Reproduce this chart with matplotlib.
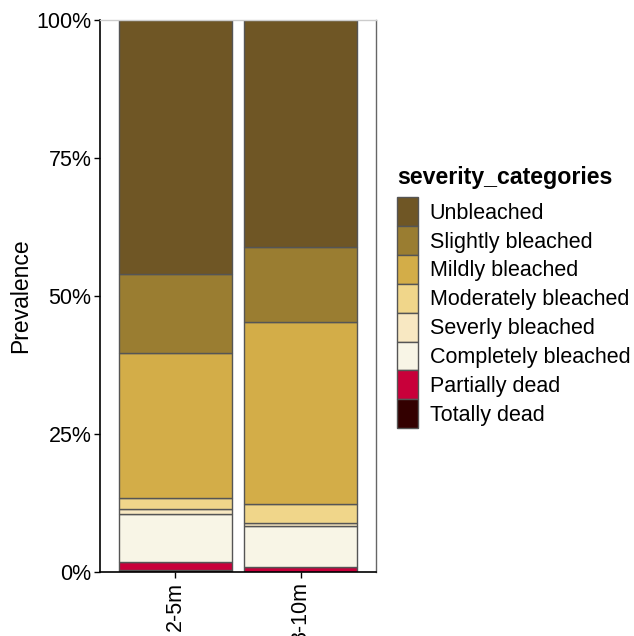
import matplotlib.pyplot as plt
from matplotlib.patches import Patch
from matplotlib.ticker import FuncFormatter

plt.rcParams['font.family'] = ['Liberation Sans', 'DejaVu Sans']

depths = ["2-5m", "8-10m"]
severity_categories = ["Unbleached", "Slightly bleached", "Mildly bleached",
                       "Moderately bleached", "Severly bleached",
                       "Completely bleached", "Partially dead", "Totally dead"]
colours = ["#6F5625", "#9A7D31", "#D3AD48", "#F0D68A",
           "#F8E8C2", "#F8F5E6", "#C8003A", "#330000"]

# prevalence (%) per category, same order as severity_categories
prev_2_5 = [46.0, 14.3, 26.35, 1.85, 0.9, 8.85, 1.4, 0.35]
prev_8_10 = [41.1, 13.6, 33.0, 3.5, 0.4, 7.55, 0.85, 0.0]

fig = plt.figure(figsize=(6.34, 6.36), dpi=100)
ax = fig.add_axes([0.1577, 0.1006, 0.4353, 0.868])

# stack from the bottom: last category sits at 0
for j, vals in enumerate([prev_2_5, prev_8_10]):
    bottom = 0.0
    for k in reversed(range(len(severity_categories))):
        v = vals[k] / 100.0
        if v > 0:
            ax.bar(j + 1, v, width=0.9, bottom=bottom, color=colours[k],
                   edgecolor="#555555", linewidth=1.0)
        bottom += v

ax.set_xlim(0.4, 2.6)
ax.set_ylim(0, 1)
ax.set_xticks([1, 2])
ax.set_xticklabels(depths, rotation=90, fontsize=15.5, color="black")
ax.set_yticks([0, 0.25, 0.5, 0.75, 1.0])
ax.yaxis.set_major_formatter(FuncFormatter(lambda y, _: f"{int(round(y * 100))}%"))
ax.tick_params(axis="y", labelsize=15.5, length=4, width=1, pad=2)
ax.tick_params(axis="x", length=4, width=1, pad=3)
ax.set_ylabel("Prevalence", fontsize=16.5)
ax.yaxis.set_label_coords(-0.246, 0.5)

for s in ["left", "bottom"]:
    ax.spines[s].set_linewidth(1.2)
    ax.spines[s].set_color("black")
ax.spines["top"].set_color("#cccccc")
ax.spines["top"].set_linewidth(1.0)
ax.spines["right"].set_color("#666666")
ax.spines["right"].set_linewidth(1.0)

handles = [Patch(facecolor=c, edgecolor="#555555", linewidth=1.0) for c in colours]
leg = fig.legend(handles, severity_categories, loc="upper left",
                 bbox_to_anchor=(0.626, 0.739), frameon=False,
                 fontsize=15.5, title="severity_categories",
                 title_fontproperties={"weight": "bold", "size": 16.7},
                 handlelength=0.98, handleheight=1.685, labelspacing=0.0,
                 handletextpad=0.55, borderpad=0, borderaxespad=0)
leg._legend_box.align = "left"
leg._legend_box.sep = 6

fig.savefig("out.png", dpi=100)
